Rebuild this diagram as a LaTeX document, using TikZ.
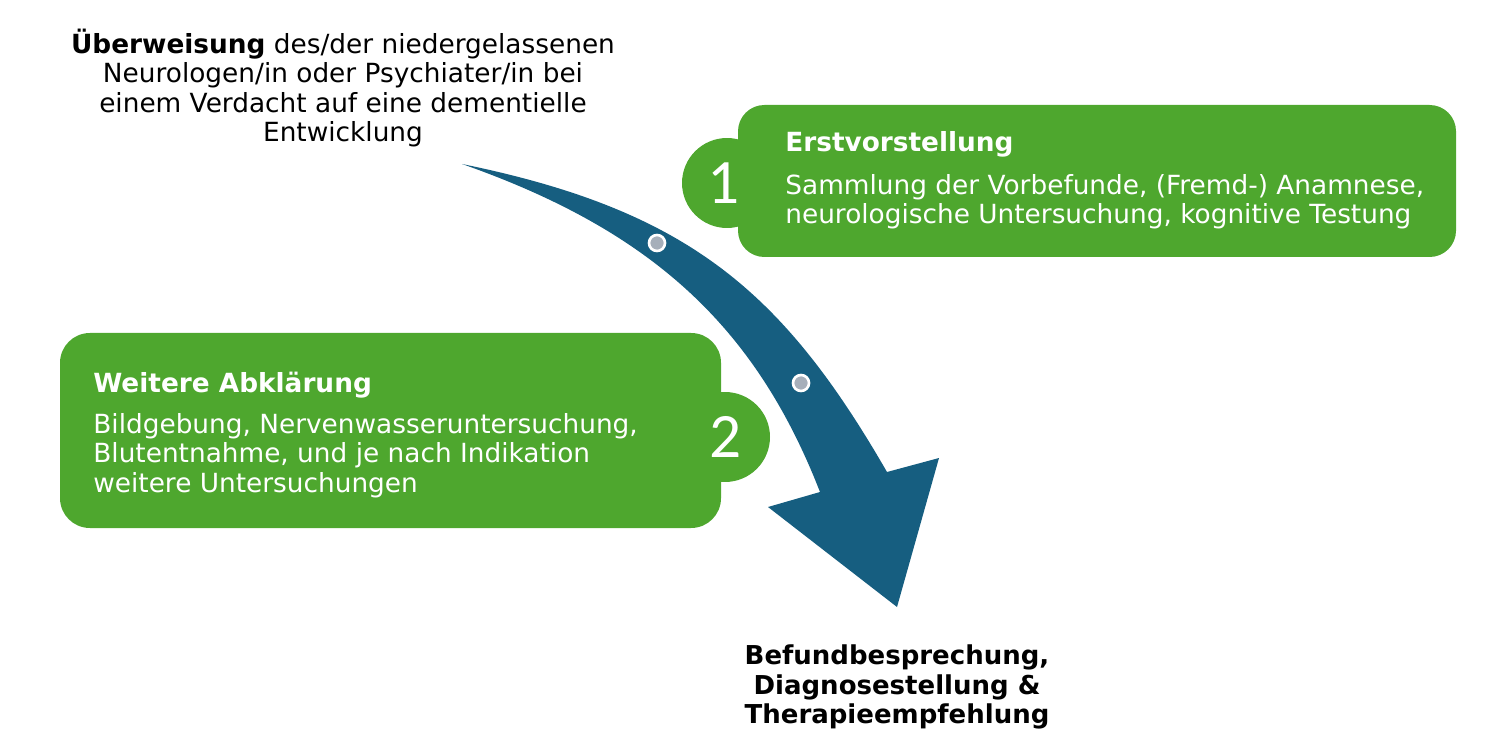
\documentclass[tikz,border=0pt]{standalone}
\usepackage{fontspec}
\setmainfont{DejaVu Sans}
\newfontfamily\numfont{Carlito}
\usepackage{tikz}
\usetikzlibrary{positioning}
\definecolor{LeafGreen}{RGB}{78,167,46}
\definecolor{PetrolBlue}{RGB}{22,94,128}
\definecolor{DotGray}{RGB}{166,175,186}

\begin{document}
\begin{tikzpicture}[x=0.02cm, y=-0.02cm,
		every node/.style={inner sep=0pt, font=\fontsize{15}{16.7}\selectfont},
		boxtitle/.style={text=white, font=\fontsize{15}{16.7}\selectfont\bfseries, anchor=base west},
		boxbody/.style={text=white, align=left, anchor=north west},
		stepnum/.style={text=white, font=\numfont\fontsize{36}{36}\selectfont},
		dot/.style={circle, fill=DotGray, draw=white, line width=1.5pt, minimum size=0.32cm}]
		\useasboundingbox (0,0) rectangle (1500,746);
		
		\fill [LeafGreen, rounded corners=15pt] (738,105) rectangle (1456,257);
		\fill [LeafGreen] (727,183) circle [radius=0.9cm];
		
		\fill [LeafGreen, rounded corners=17pt] (60,333) rectangle (721,528);
		\fill [LeafGreen] (725,437) circle [radius=0.9cm];
		
		\fill [PetrolBlue] (462,164) .. controls (687,210) and (782,290) .. (887,472) -- (939,458) -- (897,607) -- (768,507) -- (820,492) .. controls (755,325) and (650,230) .. (462,164) -- cycle;
		
		\node [dot] (dotA) at (657,243) {};
		\node [dot] (dotB) at (801,383) {};
		
		\node [stepnum] (numA) at (724,183) {1};
		\node [stepnum] (numB) at (726,437) {2};
		
		\node [boxtitle] (titleA) at (785,152) {Erstvorstellung};
		\node [boxbody] (bodyA) at (785,174) {Sammlung der Vorbefunde, (Fremd-) Anamnese,\\neurologische Untersuchung, kognitive Testung};
		
		\node [boxtitle] (titleB) at (93,392) {Weitere Abklärung};
		\node [boxbody] (bodyB) at (93,413) {Bildgebung, Nervenwasseruntersuchung,\\Blutentnahme, und je nach Indikation\\weitere Untersuchungen};
		
		\node [align=center] (referral) at (343,88) {\textbf{Überweisung} des/der niedergelassenen\\Neurologen/in oder Psychiater/in bei\\einem Verdacht auf eine dementielle\\Entwicklung};
		\node [align=center, font=\fontsize{14.8}{16.7}\selectfont\bfseries] (result) at (897,687) {Befundbesprechung,\\Diagnosestellung \&\\Therapieempfehlung};
	\end{tikzpicture}
\end{document}
